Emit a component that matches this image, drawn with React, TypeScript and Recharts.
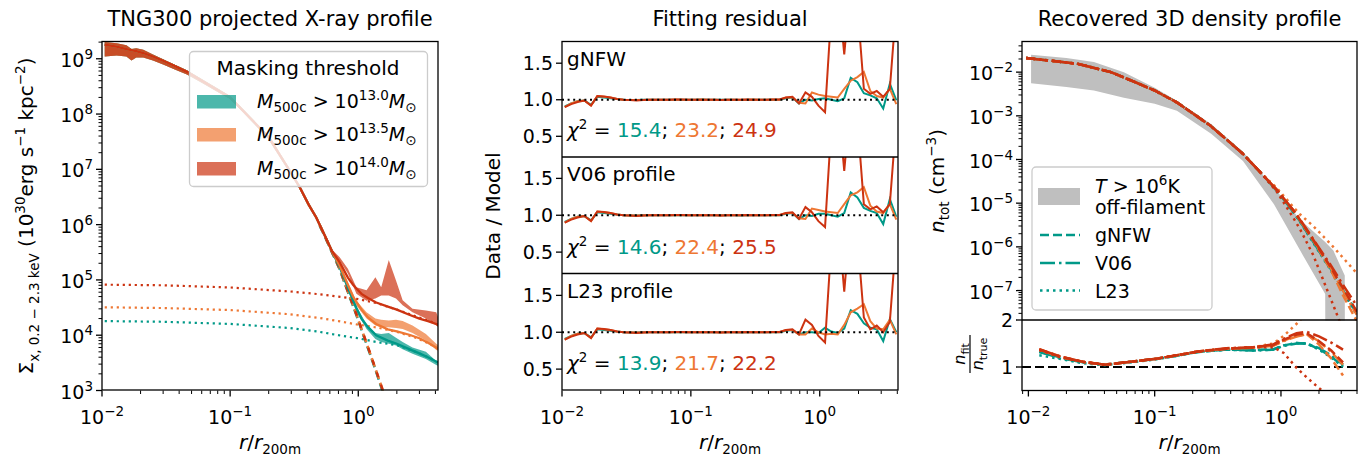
import React from 'react';
import { ComposedChart, Line, Area, XAxis, YAxis, ReferenceLine } from 'recharts';

const FONT = '"DejaVu Sans", Verdana, sans-serif';
const TEAL = '#009988';
const ORANGE = '#EE7733';
const RED = '#CC3311';
const GREY = '#bfbfbf';
const TICK_FS = 19;
const SUP_FS = 13.5;
const LABEL_FS = 20;
const TITLE_FS = 21;

// ---------------- Panel 1 : projected X-ray profile ----------------
const P1_CORE_R = [0.0105, 0.013, 0.0155, 0.017, 0.0185, 0.021, 0.025, 0.03, 0.037, 0.046, 0.06, 0.08, 0.1, 0.13, 0.17, 0.2, 0.25, 0.3, 0.35, 0.41, 0.47, 0.55, 0.62];
const P1_CORE_MODEL = [1.8e9, 1.65e9, 1.5e9, 1.43e9, 1.37e9, 1.27e9, 1.1e9, 9.2e8, 7.4e8, 5.8e8, 4.0e8, 2.7e8, 2.0e8, 1.07e8, 5.6e7, 3.8e7, 1.66e7, 8.5e6, 4.7e6, 2.3e6, 1.35e6, 6.2e5, 3.4e5];
const P1_CORE_LO = [1.1e9, 1.15e9, 1.1e9, 9.3e8, 1.05e9, 1.05e9, 9.3e8, 7.9e8, 6.4e8, 5.2e8, 3.7e8, 2.5e8, 1.87e8, 1.0e8, 5.3e7, 3.6e7, 1.58e7, 8.1e6, 4.5e6, 2.2e6, 1.29e6, 5.9e5, 3.2e5];
const P1_CORE_HI = [2.0e9, 1.9e9, 1.75e9, 1.5e9, 1.55e9, 1.45e9, 1.2e9, 9.8e8, 7.8e8, 6.2e8, 4.3e8, 2.9e8, 2.13e8, 1.14e8, 5.9e7, 4.0e7, 1.74e7, 8.9e6, 4.9e6, 2.4e6, 1.41e6, 6.5e5, 3.6e5];

const P1_BAND_TAIL_R = [0.716, 0.83, 0.967, 1.16, 1.36, 1.51, 1.73, 1.97, 2.22, 2.65, 3.37, 4.06, 4.2];
const P1_RED_LO = [2.25e5, 1.3e5, 5.6e4, 4.2e4, 4.6e4, 5.2e4, 5.2e4, 4.6e4, 3.5e4, 2.6e4, 2.0e4, 1.5e4, 1.4e4];
const P1_RED_HI = [2.57e5, 1.6e5, 7.4e4, 6.5e4, 1.12e5, 7.4e4, 2.3e5, 9.8e4, 4.3e4, 3.0e4, 2.8e4, 2.6e4, 2.1e4];
const P1_ORANGE_LO = [1.6e5, 7.5e4, 3.4e4, 2.0e4, 1.5e4, 1.4e4, 1.4e4, 1.35e4, 1.3e4, 1.1e4, 8.0e3, 5.4e3, 5.2e3];
const P1_ORANGE_HI = [1.9e5, 9.0e4, 4.2e4, 2.6e4, 2.0e4, 1.9e4, 1.85e4, 1.9e4, 1.8e4, 1.5e4, 1.05e4, 7.0e3, 6.6e3];
const P1_TEAL_LO = [1.55e5, 6.5e4, 2.6e4, 1.3e4, 8.5e3, 7.5e3, 7.0e3, 6.5e3, 5.6e3, 4.6e3, 3.7e3, 2.9e3, 2.8e3];
const P1_TEAL_HI = [1.85e5, 8.0e4, 3.3e4, 1.6e4, 1.1e4, 1.05e4, 1.1e4, 9.0e3, 7.5e3, 6.0e3, 5.0e3, 3.4e3, 3.3e3];

const P1_MODEL_TAIL_R = [0.716, 0.83, 0.91, 0.967, 1.06, 1.19, 1.38, 1.7, 2.0, 2.5, 3.0, 3.5, 4.2];
const P1_MODEL_RED = [2.1e5, 1.1e5, 8.2e4, 7.0e4, 5.6e4, 4.7e4, 3.9e4, 3.3e4, 2.9e4, 2.35e4, 2.0e4, 1.8e4, 1.55e4];
const P1_MODEL_ORANGE = [1.8e5, 8.2e4, 5.0e4, 4.0e4, 2.9e4, 2.1e4, 1.6e4, 1.28e4, 1.17e4, 1.02e4, 8.8e3, 7.3e3, 5.7e3];
const P1_MODEL_TEAL = [1.7e5, 7.2e4, 4.3e4, 3.1e4, 2.0e4, 1.4e4, 1.0e4, 8.0e3, 7.0e3, 5.6e3, 4.7e3, 4.0e3, 3.2e3];

const P1_BG_R = [0.0105, 0.03, 0.1, 0.29, 0.5, 0.7, 1.0, 1.4, 2.0, 2.8, 3.5, 4.2];
const P1_BG_RED = [8.2e4, 8.0e4, 7.3e4, 6.2e4, 5.5e4, 5.0e4, 4.5e4, 3.8e4, 2.9e4, 2.2e4, 1.85e4, 1.55e4];
const P1_BG_ORANGE = [3.2e4, 3.1e4, 2.85e4, 2.4e4, 2.05e4, 1.8e4, 1.55e4, 1.38e4, 1.15e4, 9.0e3, 7.2e3, 5.7e3];
const P1_BG_TEAL = [1.8e4, 1.75e4, 1.6e4, 1.35e4, 1.15e4, 1.0e4, 8.8e3, 7.5e3, 6.6e3, 5.0e3, 4.0e3, 3.2e3];

const P1_HALO_R = [0.5, 0.55, 0.62, 0.716, 0.83, 0.967, 1.08, 1.19, 1.36, 1.54, 1.62];
const P1_HALO_RED = [9.8e5, 6.1e5, 3.3e5, 1.6e5, 6.2e4, 2.4e4, 1.15e4, 6.1e3, 2.5e3, 1.07e3, 7.0e2];
const P1_HALO_TEAL = [9.6e5, 6.0e5, 3.25e5, 1.55e5, 6.0e4, 2.3e4, 1.1e4, 5.8e3, 2.4e3, 1.0e3, 6.5e2];

const LEGEND1_EXP = ['13.0', '13.5', '14.0'];

// ---------------- Panel 2 : fitting residual ----------------
const R2 = [0.0105, 0.0118, 0.0132, 0.0149, 0.0168, 0.0188, 0.0212, 0.0238, 0.0267, 0.030, 0.0337, 0.0379, 0.0426, 0.0478, 0.0537, 0.0603, 0.0677, 0.076, 0.0854, 0.0959, 0.108, 0.121, 0.136, 0.153, 0.171, 0.193, 0.216, 0.243, 0.273, 0.306, 0.344, 0.386, 0.434, 0.487, 0.547, 0.614, 0.690, 0.775, 0.870, 0.977, 1.10, 1.23, 1.38, 1.55, 1.74, 1.96, 2.20, 2.47, 2.77, 3.11, 3.50, 3.93];
const RES_HEAD_TEAL = [0.91, 0.95, 0.98, 0.99, 0.93, 1.04, 1.03, 1.02, 1.01];
const RES_HEAD_ORANGE = [0.90, 0.95, 0.98, 0.99, 0.92, 1.05, 1.04, 1.03, 1.01];
const RES_HEAD_RED = [0.90, 0.94, 0.97, 0.99, 0.92, 1.05, 1.045, 1.03, 1.01];
const RES_FLAT_TEAL = [1.0, 0.995, 0.995, 1.0, 1.0, 1.0, 1.0, 1.0, 1.0, 1.0, 1.0, 1.0, 1.005, 1.0, 1.0, 1.0, 1.0, 1.0, 0.995, 1.0, 1.0, 1.0, 1.0, 1.0, 1.0];
const RES_FLAT_ORANGE = [1.0, 0.995, 0.995, 0.995, 1.0, 1.0, 1.0, 1.0, 1.005, 1.0, 1.0, 1.0, 1.005, 1.0, 1.0, 0.995, 1.0, 1.0, 1.0, 1.0, 1.005, 1.0, 1.0, 1.005, 1.0];
const RES_FLAT_RED = [1.0, 0.995, 0.99, 0.995, 1.0, 1.0, 1.0, 1.0, 1.005, 1.005, 1.0, 1.0, 1.0, 1.0, 1.0, 0.995, 1.0, 1.0, 1.0, 1.005, 1.0, 1.0, 1.0, 1.005, 1.005];
const GNFW_TAIL_TEAL = [1.02, 1.03, 0.95, 1.0, 0.99, 1.01, 1.02, 1.0, 0.98, 1.02, 1.30, 1.24, 1.09, 1.06, 1.02, 0.88, 1.22, 0.99];
const GNFW_TAIL_ORANGE = [1.03, 1.03, 0.96, 0.95, 1.10, 1.07, 1.05, 1.04, 1.03, 1.15, 1.26, 1.31, 1.38, 1.12, 1.05, 1.03, 1.15, 0.94];
const GNFW_TAIL_RED = [1.03, 1.04, 0.95, 1.10, 1.04, 0.92, 0.83, 2.2, 2.6, 1.62, 2.6, 2.3, 1.15, 1.08, 1.12, 1.04, 1.15, 2.3];
const V06_TAIL_TEAL = [1.02, 1.03, 0.95, 1.0, 0.99, 1.02, 1.02, 1.0, 0.98, 1.03, 1.31, 1.24, 1.10, 1.06, 1.03, 0.88, 1.22, 0.98];
const V06_TAIL_ORANGE = [1.03, 1.03, 0.96, 0.95, 1.09, 1.07, 1.05, 1.04, 1.03, 1.15, 1.27, 1.31, 1.38, 1.13, 1.05, 1.03, 1.15, 0.94];
const V06_TAIL_RED = [1.03, 1.04, 0.95, 1.11, 1.04, 0.92, 0.84, 2.2, 2.6, 1.6, 2.6, 2.3, 1.15, 1.08, 1.12, 1.04, 1.15, 2.3];
const L23_TAIL_TEAL = [1.02, 1.03, 0.97, 1.0, 1.0, 0.99, 1.06, 1.01, 0.99, 1.05, 1.30, 1.25, 1.12, 1.06, 1.04, 0.88, 1.18, 1.0];
const L23_TAIL_ORANGE = [1.03, 1.03, 0.97, 0.97, 1.05, 1.0, 0.97, 0.98, 0.97, 1.10, 1.27, 1.32, 1.38, 1.15, 1.05, 1.04, 1.17, 0.97];
const L23_TAIL_RED = [1.03, 1.04, 0.97, 1.17, 1.10, 0.95, 0.86, 2.2, 2.6, 1.55, 2.6, 2.3, 1.2, 1.04, 1.09, 1.0, 1.14, 2.3];
const CHI2_GNFW = ['15.4', '23.2', '24.9'];
const CHI2_V06 = ['14.6', '22.4', '25.5'];
const CHI2_L23 = ['13.9', '21.7', '22.2'];
const P2_Y_TICKS = [0.5, 1.0, 1.5];
const P2_Y_LABELS = ['0.5', '1.0', '1.5'];

// ---------------- Panel 3 : recovered 3D density ----------------
const P3_BAND_R = [0.0105, 0.02, 0.033, 0.057, 0.1, 0.15, 0.28, 0.5, 0.88, 1.42, 2.24, 2.25, 2.6, 3.2, 3.21];
const P3_BAND_LO = [5.6e-3, 4.6e-3, 3.8e-3, 2.6e-3, 1.9e-3, 1.3e-3, 3.9e-4, 9.3e-5, 9.5e-6, 8.2e-7, 8.3e-8, 1e-9, 1e-9, 1e-9, 1e-9];
const P3_BAND_HI = [2.5e-2, 2.1e-2, 1.7e-2, 1.0e-2, 4.4e-3, 2.2e-3, 6.5e-4, 1.5e-4, 2.3e-5, 4.2e-6, 1.3e-6, 1.28e-6, 8.2e-7, 2.2e-7, 1e-9];

const P3_CORE_R = [0.0096, 0.0145, 0.0245, 0.045, 0.07, 0.1, 0.151, 0.2, 0.277, 0.38, 0.5, 0.7];
const P3_CORE = [2.1e-2, 1.85e-2, 1.55e-2, 1.0e-2, 5.9e-3, 3.8e-3, 2.0e-3, 1.14e-3, 5.9e-4, 2.7e-4, 1.35e-4, 4.8e-5];
const P3_TAIL_R = [0.93, 1.26, 1.42, 1.8, 2.45, 3.12, 3.98];
const N_GNFW_TEAL = [1.9e-5, 6.2e-6, 3.8e-6, 1.3e-6, 3.2e-7, 9.5e-8, 3.0e-8];
const N_GNFW_ORANGE = [2.0e-5, 6.6e-6, 4.0e-6, 1.4e-6, 3.2e-7, 7.5e-8, 2.0e-8];
const N_GNFW_RED = [2.0e-5, 6.6e-6, 4.1e-6, 1.45e-6, 3.6e-7, 1.1e-7, 3.3e-8];
const N_V06_TEAL = [1.9e-5, 6.2e-6, 3.8e-6, 1.3e-6, 3.3e-7, 1.0e-7, 3.2e-8];
const N_V06_ORANGE = [2.0e-5, 6.6e-6, 4.0e-6, 1.45e-6, 3.5e-7, 9.5e-8, 2.8e-8];
const N_V06_RED = [2.0e-5, 6.8e-6, 4.2e-6, 1.5e-6, 4.0e-7, 1.3e-7, 4.5e-8];
const N_L23_TEAL = [1.9e-5, 6.1e-6, 3.7e-6, 1.25e-6, 3.1e-7, 9.0e-8, 2.8e-8];
const N_L23_ORANGE = [2.2e-5, 8.0e-6, 5.5e-6, 3.0e-6, 1.2e-6, 5.5e-7, 2.5e-7];
const N_L23_RED = [1.8e-5, 4.5e-6, 2.5e-6, 6.5e-7, 7e-8, 1.2e-8, 1e-9];

const RR = [0.0122, 0.018, 0.027, 0.04, 0.06, 0.1, 0.15, 0.22, 0.37, 0.6, 0.87, 1.05, 1.33, 1.6, 2.0, 2.5, 3.1];
const Q_GNFW_TEAL = [1.33, 1.20, 1.10, 1.05, 1.10, 1.17, 1.24, 1.32, 1.37, 1.36, 1.38, 1.46, 1.51, 1.50, 1.38, 1.22, 1.02];
const Q_GNFW_ORANGE = [1.38, 1.22, 1.11, 1.05, 1.10, 1.17, 1.25, 1.33, 1.39, 1.41, 1.46, 1.56, 1.66, 1.70, 1.48, 1.18, 0.82];
const Q_GNFW_RED = [1.37, 1.22, 1.11, 1.05, 1.10, 1.17, 1.25, 1.33, 1.39, 1.42, 1.47, 1.58, 1.69, 1.72, 1.55, 1.35, 1.10];
const Q_V06_TEAL = [1.32, 1.19, 1.10, 1.05, 1.10, 1.17, 1.24, 1.32, 1.37, 1.35, 1.37, 1.45, 1.50, 1.50, 1.40, 1.25, 1.05];
const Q_V06_ORANGE = [1.37, 1.21, 1.11, 1.05, 1.10, 1.17, 1.25, 1.33, 1.39, 1.41, 1.45, 1.55, 1.65, 1.70, 1.55, 1.32, 1.05];
const Q_V06_RED = [1.38, 1.22, 1.11, 1.05, 1.10, 1.17, 1.25, 1.33, 1.40, 1.42, 1.48, 1.60, 1.72, 1.75, 1.65, 1.52, 1.37];
const Q_L23_TEAL = [1.25, 1.17, 1.08, 1.04, 1.09, 1.16, 1.24, 1.32, 1.37, 1.35, 1.37, 1.46, 1.51, 1.50, 1.37, 1.20, 1.00];
const Q_L23_ORANGE = [1.36, 1.21, 1.11, 1.05, 1.10, 1.17, 1.25, 1.33, 1.39, 1.42, 1.50, 1.66, 1.92, 2.15, 2.5, 3.0, 3.5];
const Q_L23_RED = [1.36, 1.21, 1.11, 1.05, 1.10, 1.17, 1.25, 1.33, 1.39, 1.42, 1.42, 1.30, 0.98, 0.78, 0.55, 0.35, 0.2];

// ---------------- axis ticks ----------------
const X_MAJOR = [0.01, 0.1, 1];
const X_MAJOR_EXP = ['−2', '−1', '0'];
const Y1_MAJOR = [1e3, 1e4, 1e5, 1e6, 1e7, 1e8, 1e9];
const Y1_MAJOR_EXP = ['3', '4', '5', '6', '7', '8', '9'];
const Y3_MAJOR = [1e-7, 1e-6, 1e-5, 1e-4, 1e-3, 1e-2];
const Y3_MAJOR_EXP = ['−7', '−6', '−5', '−4', '−3', '−2'];
const Q_TICKS = [1, 2];
const Q_LABELS = ['1', '2'];

function minorTicks(e0: number, e1: number, lo: number, hi: number) {
  const out: number[] = [];
  for (let e = e0; e <= e1; e++) {
    for (let m = 2; m <= 9; m++) {
      const v = m * Math.pow(10, e);
      if (v >= lo * 0.9999 && v <= hi * 1.0001) out.push(v);
    }
  }
  return out;
}

const pts = (rs: number[], vs: number[]) => rs.map((r, i) => ({ r, v: vs[i] }));
const band = (rs: number[], lo: number[], hi: number[]) => rs.map((r, i) => ({ r, v: [lo[i], hi[i]] }));

// ---------------- layout helpers ----------------
type Box = { x0: number; y0: number; x1: number; y1: number };
const PAD_L = 90;
const PAD_T = 12;
const PAD_R = 8;
const PAD_B = 48;

function Plot({ box, children }: { box: Box; children: React.ReactNode }) {
  const w = box.x1 - box.x0;
  const h = box.y1 - box.y0;
  return (
    <div style={{ position: 'absolute', left: box.x0 - PAD_L, top: box.y0 - PAD_T }}>
      <ComposedChart width={w + PAD_L + PAD_R} height={h + PAD_T + PAD_B} margin={{ top: PAD_T, right: PAD_R, bottom: 0, left: 0 }}>
        {children}
      </ComposedChart>
    </div>
  );
}

const isMajor = (majors: number[], v: number) => majors.findIndex((m) => Math.abs(v / m - 1) < 1e-6);

function xTick(labels: string[] | null) {
  return (p: any) => {
    const { x, y, payload } = p;
    const i = isMajor(X_MAJOR, payload.value);
    const major = i >= 0;
    return (
      <g>
        <line x1={x} x2={x} y1={y} y2={y + (major ? 6 : 3.5)} stroke="#000" strokeWidth={major ? 1.3 : 1} />
        {major && labels ? (
          <text x={x} y={y + 33} textAnchor="middle" fontSize={TICK_FS} fontFamily={FONT} fill="#000">
            10<tspan dy={-8} fontSize={SUP_FS}>{labels[i]}</tspan>
          </text>
        ) : null}
      </g>
    );
  };
}

function yPowTick(majors: number[], exps: string[]) {
  return (p: any) => {
    const { x, y, payload } = p;
    const i = isMajor(majors, payload.value);
    const major = i >= 0;
    return (
      <g>
        <line x1={x} x2={x - (major ? 6 : 3.5)} y1={y} y2={y} stroke="#000" strokeWidth={major ? 1.3 : 1} />
        {major ? (
          <text x={x - 9} y={y + 8} textAnchor="end" fontSize={TICK_FS} fontFamily={FONT} fill="#000">
            10<tspan dy={-8} fontSize={SUP_FS}>{exps[i]}</tspan>
          </text>
        ) : null}
      </g>
    );
  };
}

function yPlainTick(values: number[], labels: string[]) {
  return (p: any) => {
    const { x, y, payload } = p;
    const i = isMajor(values, payload.value);
    return (
      <g>
        <line x1={x} x2={x - 6} y1={y} y2={y} stroke="#000" strokeWidth={1.3} />
        <text x={x - 9} y={y + 6.5} textAnchor="end" fontSize={TICK_FS} fontFamily={FONT} fill="#000">
          {i >= 0 ? labels[i] : ''}
        </text>
      </g>
    );
  };
}

const axisCommon = { tickSize: 0, tickMargin: 0, axisLine: false, tickLine: false, interval: 0 as const, allowDataOverflow: true };

function XLog({ domain, labels, hidden }: { domain: [number, number]; labels: boolean; hidden?: boolean }) {
  return null;
}

const lineBase = { type: 'linear' as const, dataKey: 'v', dot: false, activeDot: false, isAnimationActive: false, connectNulls: true };

// ---------------- Panel 1 ----------------
const B1: Box = { x0: 102, y0: 41.5, x1: 438, y1: 390 };
const X1_DOMAIN: [number, number] = [0.01, 4.19];

function Panel1() {
  const core = (tailR: number[], tail: number[]) => [...pts(P1_CORE_R, P1_CORE_MODEL), ...pts(tailR, tail)];
  const coreBand = band(P1_CORE_R, P1_CORE_LO, P1_CORE_HI);
  const xt = [...X_MAJOR, ...minorTicks(-2, 0, X1_DOMAIN[0], X1_DOMAIN[1])];
  const yt = [...Y1_MAJOR, ...minorTicks(3, 9, 1e3, 2.01e9)];
  return (
    <Plot box={B1}>
      <XAxis type="number" dataKey="r" scale="log" domain={X1_DOMAIN} ticks={xt} tick={xTick(X_MAJOR_EXP)} height={PAD_B} {...axisCommon} />
      <YAxis type="number" scale="log" domain={[1e3, 2.01e9]} ticks={yt} tick={yPowTick(Y1_MAJOR, Y1_MAJOR_EXP)} width={PAD_L} {...axisCommon} />
      <Area data={[...coreBand, ...band(P1_BAND_TAIL_R, P1_TEAL_LO, P1_TEAL_HI)]} dataKey="v" type="linear" stroke="none" fill={TEAL} fillOpacity={0.7} isAnimationActive={false} />
      <Area data={[...coreBand, ...band(P1_BAND_TAIL_R, P1_ORANGE_LO, P1_ORANGE_HI)]} dataKey="v" type="linear" stroke="none" fill={ORANGE} fillOpacity={0.7} isAnimationActive={false} />
      <Area data={[...coreBand, ...band(P1_BAND_TAIL_R, P1_RED_LO, P1_RED_HI)]} dataKey="v" type="linear" stroke="none" fill={RED} fillOpacity={0.7} isAnimationActive={false} />
      <Line {...lineBase} data={pts(P1_BG_TEAL.length ? P1_BG_R : [], P1_BG_TEAL)} stroke={TEAL} strokeWidth={2.2} strokeDasharray="2.2 3.8" />
      <Line {...lineBase} data={pts(P1_BG_R, P1_BG_ORANGE)} stroke={ORANGE} strokeWidth={2.2} strokeDasharray="2.2 3.8" />
      <Line {...lineBase} data={pts(P1_BG_R, P1_BG_RED)} stroke={RED} strokeWidth={2.2} strokeDasharray="2.2 3.8" />
      <Line {...lineBase} data={pts(P1_HALO_R, P1_HALO_TEAL)} stroke={TEAL} strokeWidth={2.5} strokeDasharray="9 4" />
      <Line {...lineBase} data={pts(P1_HALO_R, P1_HALO_RED)} stroke={ORANGE} strokeWidth={2.5} strokeDasharray="9 4" />
      <Line {...lineBase} data={pts(P1_HALO_R, P1_HALO_RED)} stroke={RED} strokeWidth={2.5} strokeDasharray="5 8" strokeDashoffset={-2} />
      <Line {...lineBase} data={core(P1_MODEL_TAIL_R, P1_MODEL_TEAL)} stroke={TEAL} strokeWidth={2.3} />
      <Line {...lineBase} data={core(P1_MODEL_TAIL_R, P1_MODEL_ORANGE)} stroke={ORANGE} strokeWidth={2.3} />
      <Line {...lineBase} data={core(P1_MODEL_TAIL_R, P1_MODEL_RED)} stroke={RED} strokeWidth={2.3} />
    </Plot>
  );
}

// ---------------- Panel 2 ----------------
const P2_X0 = 562;
const P2_X1 = 898;
const P2_ROWS = [41.5, 157, 273.5, 390];
const X2_DOMAIN: [number, number] = [0.01, 4.05];

function ResidualPlot({ row, tails, bottom }: { row: number; tails: number[][]; bottom: boolean }) {
  const box: Box = { x0: P2_X0, y0: P2_ROWS[row], x1: P2_X1, y1: P2_ROWS[row + 1] };
  const heads = [RES_HEAD_TEAL, RES_HEAD_ORANGE, RES_HEAD_RED];
  const flats = [RES_FLAT_TEAL, RES_FLAT_ORANGE, RES_FLAT_RED];
  const colors = [TEAL, ORANGE, RED];
  const xt = [...X_MAJOR, ...minorTicks(-2, 0, X2_DOMAIN[0], X2_DOMAIN[1])];
  return (
    <Plot box={box}>
      <XAxis type="number" dataKey="r" scale="log" domain={X2_DOMAIN} ticks={bottom ? xt : []} tick={bottom ? xTick(X_MAJOR_EXP) : false} height={PAD_B} {...axisCommon} />
      <YAxis type="number" domain={[0.21, 1.79]} ticks={P2_Y_TICKS} tick={yPlainTick(P2_Y_TICKS, P2_Y_LABELS)} width={PAD_L} {...axisCommon} />
      {colors.map((c, k) => (
        <Line key={c} {...lineBase} data={pts(R2, [...heads[k], ...flats[k], ...tails[k]])} stroke={c} strokeWidth={2} />
      ))}
      <ReferenceLine y={1} stroke="#000" strokeWidth={2} strokeDasharray="2 3.6" ifOverflow="hidden" />
    </Plot>
  );
}

function Panel2() {
  return (
    <>
      <ResidualPlot row={0} tails={[GNFW_TAIL_TEAL, GNFW_TAIL_ORANGE, GNFW_TAIL_RED]} bottom={false} />
      <ResidualPlot row={1} tails={[V06_TAIL_TEAL, V06_TAIL_ORANGE, V06_TAIL_RED]} bottom={false} />
      <ResidualPlot row={2} tails={[L23_TAIL_TEAL, L23_TAIL_ORANGE, L23_TAIL_RED]} bottom={true} />
    </>
  );
}

// ---------------- Panel 3 ----------------
const B3U: Box = { x0: 1022, y0: 41.5, x1: 1357, y1: 320 };
const B3L: Box = { x0: 1022, y0: 320, x1: 1357, y1: 390.5 };
const X3_DOMAIN: [number, number] = [0.0089, 4.0];
const Y3_DOMAIN: [number, number] = [2.06e-8, 0.049];
const DASH = { gNFW: '9 4', V06: '15 4 2.5 4', L23: '2.5 4' };

function Panel3() {
  const full = (tail: number[]) => [...pts(P3_CORE_R, P3_CORE), ...pts(P3_TAIL_R, tail)];
  const dens = [
    { d: N_L23_TEAL, c: TEAL, s: DASH.L23 }, { d: N_V06_TEAL, c: TEAL, s: DASH.V06 }, { d: N_GNFW_TEAL, c: TEAL, s: DASH.gNFW },
    { d: N_L23_ORANGE, c: ORANGE, s: DASH.L23 }, { d: N_V06_ORANGE, c: ORANGE, s: DASH.V06 }, { d: N_GNFW_ORANGE, c: ORANGE, s: DASH.gNFW },
    { d: N_L23_RED, c: RED, s: DASH.L23 }, { d: N_V06_RED, c: RED, s: DASH.V06 }, { d: N_GNFW_RED, c: RED, s: DASH.gNFW },
  ];
  const ratios = [
    { d: Q_L23_TEAL, c: TEAL, s: DASH.L23 }, { d: Q_V06_TEAL, c: TEAL, s: DASH.V06 }, { d: Q_GNFW_TEAL, c: TEAL, s: DASH.gNFW },
    { d: Q_L23_ORANGE, c: ORANGE, s: DASH.L23 }, { d: Q_V06_ORANGE, c: ORANGE, s: DASH.V06 }, { d: Q_GNFW_ORANGE, c: ORANGE, s: DASH.gNFW },
    { d: Q_L23_RED, c: RED, s: DASH.L23 }, { d: Q_V06_RED, c: RED, s: DASH.V06 }, { d: Q_GNFW_RED, c: RED, s: DASH.gNFW },
  ];
  const xt = [...X_MAJOR, ...minorTicks(-3, 0, X3_DOMAIN[0], X3_DOMAIN[1])];
  const yt = [...Y3_MAJOR, ...minorTicks(-8, -2, Y3_DOMAIN[0], Y3_DOMAIN[1])];
  return (
    <>
      <Plot box={B3U}>
        <XAxis type="number" dataKey="r" scale="log" domain={X3_DOMAIN} ticks={[]} tick={false} height={PAD_B} {...axisCommon} />
        <YAxis type="number" scale="log" domain={Y3_DOMAIN} ticks={yt} tick={yPowTick(Y3_MAJOR, Y3_MAJOR_EXP)} width={PAD_L} {...axisCommon} />
        <Area data={band(P3_BAND_R, P3_BAND_LO, P3_BAND_HI)} dataKey="v" type="linear" stroke="none" fill={GREY} fillOpacity={1} isAnimationActive={false} />
        {dens.map((o, k) => (
          <Line key={k} {...lineBase} data={full(o.d)} stroke={o.c} strokeWidth={2.5} strokeDasharray={o.s} />
        ))}
      </Plot>
      <Plot box={B3L}>
        <XAxis type="number" dataKey="r" scale="log" domain={X3_DOMAIN} ticks={xt} tick={xTick(X_MAJOR_EXP)} height={PAD_B} {...axisCommon} />
        <YAxis type="number" domain={[0.5, 2]} ticks={Q_TICKS} tick={yPlainTick(Q_TICKS, Q_LABELS)} width={PAD_L} {...axisCommon} />
        <ReferenceLine y={1} stroke="#000" strokeWidth={2} strokeDasharray="9 4" />
        {ratios.map((o, k) => (
          <Line key={k} {...lineBase} data={pts(RR, o.d)} stroke={o.c} strokeWidth={2.5} strokeDasharray={o.s} />
        ))}
      </Plot>
    </>
  );
}

// ---------------- static text, frames and legends ----------------
function XLabel({ cx }: { cx: number }) {
  return (
    <text x={cx} y={449} textAnchor="middle" fontSize={LABEL_FS} fontFamily={FONT}>
      <tspan fontStyle="italic">r</tspan>/<tspan fontStyle="italic">r</tspan>
      <tspan fontSize={SUP_FS} dy={5}>200m</tspan>
    </text>
  );
}

function Chi2({ y, vals }: { y: number; vals: string[] }) {
  return (
    <text x={567} y={y} fontSize={LABEL_FS} fontFamily={FONT}>
      <tspan fontStyle="italic">χ</tspan>
      <tspan fontSize={SUP_FS} dy={-8}>2</tspan>
      <tspan dy={8}> = </tspan>
      <tspan fill={TEAL}>{vals[0]}</tspan>
      <tspan>; </tspan>
      <tspan fill={ORANGE}>{vals[1]}</tspan>
      <tspan>; </tspan>
      <tspan fill={RED}>{vals[2]}</tspan>
    </text>
  );
}

function Overlay() {
  const legColors = [TEAL, ORANGE, RED];
  const legY = [95, 128, 162];
  const p3Leg = [
    { name: 'gNFW', dash: DASH.gNFW, y: 235 },
    { name: 'V06', dash: DASH.V06, y: 263 },
    { name: 'L23', dash: DASH.L23, y: 290.5 },
  ];
  return (
    <svg width={1366} height={457} style={{ position: 'absolute', left: 0, top: 0, pointerEvents: 'none' }} fontFamily={FONT}>
      {/* titles */}
      <text x={270} y={26} textAnchor="middle" fontSize={TITLE_FS}>TNG300 projected X-ray profile</text>
      <text x={730} y={26} textAnchor="middle" fontSize={TITLE_FS}>Fitting residual</text>
      <text x={1189.5} y={26} textAnchor="middle" fontSize={TITLE_FS}>Recovered 3D density profile</text>

      {/* x labels */}
      <XLabel cx={270} />
      <XLabel cx={730} />
      <XLabel cx={1189.5} />

      {/* y labels */}
      <g transform="translate(33,216) rotate(-90)">
        <text textAnchor="middle" fontSize={LABEL_FS}>
          Σ<tspan fontSize={SUP_FS} dy={6}>x, 0.2 − 2.3 keV</tspan>
          <tspan dy={-6}> (10</tspan>
          <tspan fontSize={SUP_FS} dy={-8}>30</tspan>
          <tspan dy={8}>erg s</tspan>
          <tspan fontSize={SUP_FS} dy={-8}>−1</tspan>
          <tspan dy={8}> kpc</tspan>
          <tspan fontSize={SUP_FS} dy={-8}>−2</tspan>
          <tspan dy={8}>)</tspan>
        </text>
      </g>
      <g transform="translate(500,216) rotate(-90)">
        <text textAnchor="middle" fontSize={LABEL_FS}>Data / Model</text>
      </g>
      <g transform="translate(944,181) rotate(-90)">
        <text textAnchor="middle" fontSize={LABEL_FS}>
          <tspan fontStyle="italic">n</tspan>
          <tspan fontSize={SUP_FS} dy={5}>tot</tspan>
          <tspan dy={-5}> (cm</tspan>
          <tspan fontSize={SUP_FS} dy={-8}>−3</tspan>
          <tspan dy={8}>)</tspan>
        </text>
      </g>
      <g transform="translate(970,354) rotate(-90)">
        <text x={0} y={-5} textAnchor="middle" fontSize={16}>
          <tspan fontStyle="italic">n</tspan>
          <tspan fontSize={11} dy={4}>fit</tspan>
        </text>
        <line x1={-19} x2={19} y1={0} y2={0} stroke="#000" strokeWidth={1.2} />
        <text x={0} y={13} textAnchor="middle" fontSize={16}>
          <tspan fontStyle="italic">n</tspan>
          <tspan fontSize={11} dy={4}>true</tspan>
        </text>
      </g>

      {/* panel 2 annotations */}
      <text x={567} y={66} fontSize={LABEL_FS}>gNFW</text>
      <Chi2 y={137} vals={CHI2_GNFW} />
      <text x={567} y={181} fontSize={LABEL_FS}>V06 profile</text>
      <Chi2 y={253.5} vals={CHI2_V06} />
      <text x={567} y={297.5} fontSize={LABEL_FS}>L23 profile</text>
      <Chi2 y={370} vals={CHI2_L23} />

      {/* panel 1 legend */}
      <rect x={189.5} y={51.5} width={238} height={135} rx={4} fill="#fff" fillOpacity={0.8} stroke="#cccccc" strokeWidth={1.3} />
      <text x={308} y={75} textAnchor="middle" fontSize={LABEL_FS}>Masking threshold</text>
      {legColors.map((c, k) => (
        <g key={c}>
          <rect x={197} y={legY[k]} width={39} height={13.5} fill={c} fillOpacity={0.7} />
          <text x={257} y={legY[k] + 13} fontSize={TICK_FS}>
            <tspan fontStyle="italic">M</tspan>
            <tspan fontSize={SUP_FS} dy={4}>500c</tspan>
            <tspan dy={-4}> &gt; 10</tspan>
            <tspan fontSize={SUP_FS} dy={-8}>{LEGEND1_EXP[k]}</tspan>
            <tspan dy={8} fontStyle="italic">M</tspan>
            <tspan fontSize={SUP_FS} dy={4}>⊙</tspan>
          </text>
        </g>
      ))}

      {/* panel 3 legend */}
      <rect x={1032} y={167} width={180} height={143} rx={4} fill="#fff" fillOpacity={0.8} stroke="#cccccc" strokeWidth={1.3} />
      <rect x={1038} y={188} width={42} height={17} fill={GREY} />
      <text x={1095} y={193} fontSize={TICK_FS}>
        <tspan fontStyle="italic">T</tspan> &gt; 10<tspan fontSize={SUP_FS} dy={-8}>6</tspan><tspan dy={8}>K</tspan>
      </text>
      <text x={1095} y={214} fontSize={TICK_FS}>off-filament</text>
      {p3Leg.map((o) => (
        <g key={o.name}>
          <line x1={1040} x2={1080} y1={o.y} y2={o.y} stroke={TEAL} strokeWidth={2.5} strokeDasharray={o.dash} />
          <text x={1095} y={o.y + 7} fontSize={TICK_FS}>{o.name}</text>
        </g>
      ))}

      {/* frames */}
      <rect x={B1.x0} y={B1.y0} width={B1.x1 - B1.x0} height={B1.y1 - B1.y0} fill="none" stroke="#000" strokeWidth={1.3} />
      <rect x={P2_X0} y={P2_ROWS[0]} width={P2_X1 - P2_X0} height={P2_ROWS[3] - P2_ROWS[0]} fill="none" stroke="#000" strokeWidth={1.3} />
      <line x1={P2_X0} x2={P2_X1} y1={P2_ROWS[1]} y2={P2_ROWS[1]} stroke="#000" strokeWidth={1.3} />
      <line x1={P2_X0} x2={P2_X1} y1={P2_ROWS[2]} y2={P2_ROWS[2]} stroke="#000" strokeWidth={1.3} />
      <rect x={B3U.x0} y={B3U.y0} width={B3U.x1 - B3U.x0} height={B3L.y1 - B3U.y0} fill="none" stroke="#000" strokeWidth={1.3} />
      <line x1={B3U.x0} x2={B3U.x1} y1={B3U.y1} y2={B3U.y1} stroke="#000" strokeWidth={1.3} />
    </svg>
  );
}

export default function App() {
  return (
    <div style={{ position: 'absolute', left: 0, top: 0, width: 1366, height: 457, background: '#fff', overflow: 'hidden', fontFamily: FONT }}>
      <Panel1 />
      <Panel2 />
      <Panel3 />
      <Overlay />
    </div>
  );
}
